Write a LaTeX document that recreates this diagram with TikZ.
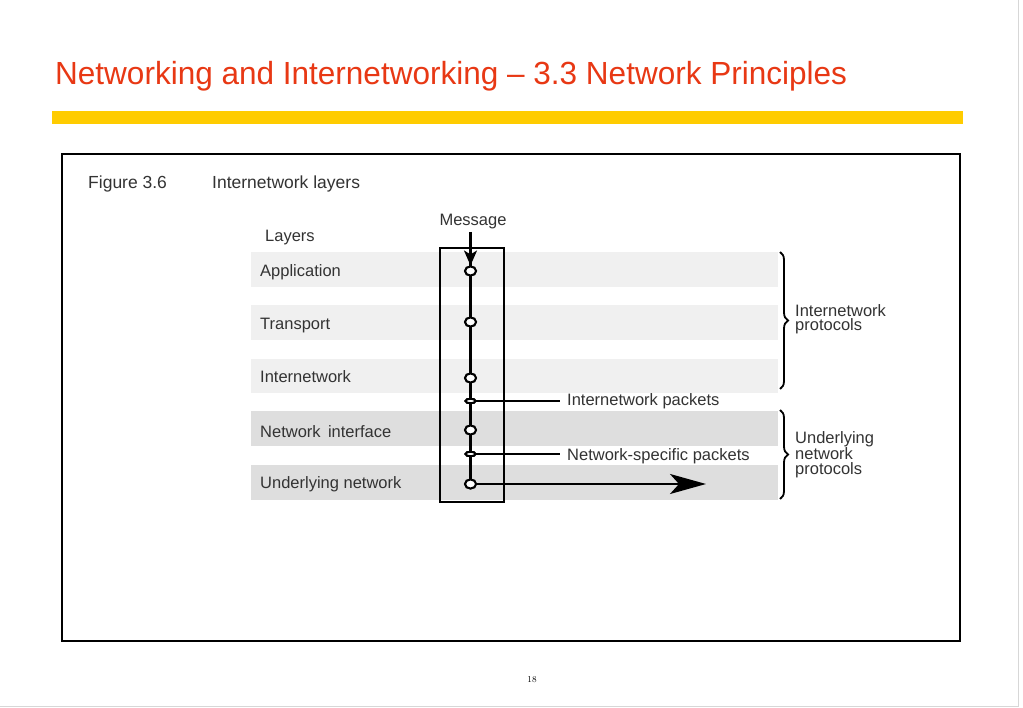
\documentclass[tikz,border=0pt]{standalone}
\usepackage{fontspec}
\setmainfont{Liberation Sans}
\usetikzlibrary{arrows.meta,decorations.pathreplacing,shapes.geometric}
\definecolor{titlered}{RGB}{232,56,20}
\definecolor{baryellow}{RGB}{255,204,0}
\definecolor{bandlight}{RGB}{240,240,240}
\definecolor{banddark}{RGB}{222,222,222}
\definecolor{edgegray}{RGB}{215,215,215}
\tikzset{
  figtext/.style={font=\fontsize{17.5}{18}\selectfont, text=black!80, inner sep=0pt, anchor=west},
  laytext/.style={font=\fontsize{16.5}{17}\selectfont, text=black!80, inner sep=0pt, anchor=west},
  node ring/.style={ellipse, draw=black, line width=2pt, fill=white, minimum width=11pt, minimum height=9pt, inner sep=0pt},
  node flat/.style={ellipse, draw=black, line width=2pt, fill=white, minimum width=10pt, minimum height=4.5pt, inner sep=0pt},
  bracestyle/.style={decorate, decoration={brace, amplitude=8pt}, line width=1.8pt},
}
\begin{document}
\begin{tikzpicture}[x=1pt,y=-1pt]
\useasboundingbox (0,0) rectangle (1023,708);
\fill[white] (0,0) rectangle (1023,708);
% page edges
\draw[edgegray, line width=1pt] (1018,0) -- (1018,706) -- (0,706);
% title
\node[anchor=base west, inner sep=0pt, text=titlered, font=\fontsize{32}{34}\selectfont, xscale=0.985] (title) at (55,85) {Networking and Internetworking – 3.3 Network Principles};
\fill[baryellow] (52,111) rectangle (963,124);
% frame
\draw[line width=2pt] (62,154) rectangle (960,641);
\node[figtext] (fig) at (88,184) {Figure 3.6};
\node[figtext] (figt) at (212,184) {Internetwork layers};
% bands
\fill[bandlight] (251,252) rectangle (778,287);
\fill[bandlight] (251,305) rectangle (778,340);
\fill[bandlight] (251,359) rectangle (778,393);
\fill[banddark] (251,411) rectangle (778,446);
\fill[banddark] (251,465) rectangle (778,500);
% layer labels
\node[laytext] (layers) at (265,238) {Layers};
\node[laytext] (app) at (260,272) {Application};
\node[laytext] (trans) at (260,326) {Transport};
\node[laytext] (inet) at (260,377) {Internetwork};
\node[laytext] (nif) at (260,432) {Network\, interface};
\node[laytext] (und) at (260,484) {Underlying network};
% box
\draw[line width=2pt] (440,248) rectangle (504,502);
\coordinate (vtop) at (470.5,248);
% nodes
\node[node ring] (a1) at (470.5,271) {};
\node[node ring] (a2) at (470.5,322) {};
\node[node ring] (a3) at (470.5,378) {};
\node[node flat] (p1) at (470.5,401) {};
\node[node ring] (a4) at (470.5,430) {};
\node[node flat] (p2) at (470.5,454) {};
\node[node ring] (a5) at (470.5,484) {};
% message
\node[laytext, anchor=center] (msg) at (473,222) {Message};
\coordinate (mstart) at (470.5,232);
% labels
\node[laytext] (lp1) at (567,401) {Internetwork packets};
\node[laytext] (lp2) at (567,456) {Network-specific packets};
\coordinate (aend) at (706,484);
% connectors
\draw[line width=3pt] (vtop) -- (a5.center);
\draw[line width=1.8pt] (p1.center) -- ([xshift=-7pt]p1.center -| lp1.west);
\draw[line width=1.8pt] (p2.center) -- ([xshift=-7pt]p2.center -| lp2.west);
\draw[line width=2.4pt, -{Stealth[length=36pt,width=20pt,inset=9pt]}] (a5.center) -- (aend);
\draw[line width=2.2pt, -{Stealth[length=15pt,width=13pt,inset=4pt]}] (mstart) -- (a1.north);
% redraw nodes on top
\node[node ring] at (a1) {};
\node[node ring] at (a2) {};
\node[node ring] at (a3) {};
\node[node flat] at (p1) {};
\node[node ring] at (a4) {};
\node[node flat] at (p2) {};
\node[node ring] at (a5) {};
% braces
\draw[bracestyle] (780,252) -- (780,389);
\draw[bracestyle] (780,410) -- (780,499);
\node[laytext, align=left, anchor=north west, font=\fontsize{16.5}{14.5}\selectfont] (ip) at (795,304) {Internetwork\\protocols};
\node[laytext, align=left, anchor=north west, font=\fontsize{16.5}{15}\selectfont] (unp) at (795,431) {Underlying\\network\\protocols};
% page number
\node[font=\fontfamily{lmr}\fontsize{9}{10}\selectfont, inner sep=0pt] (pg) at (532,680) {18};
\end{tikzpicture}
\end{document}
